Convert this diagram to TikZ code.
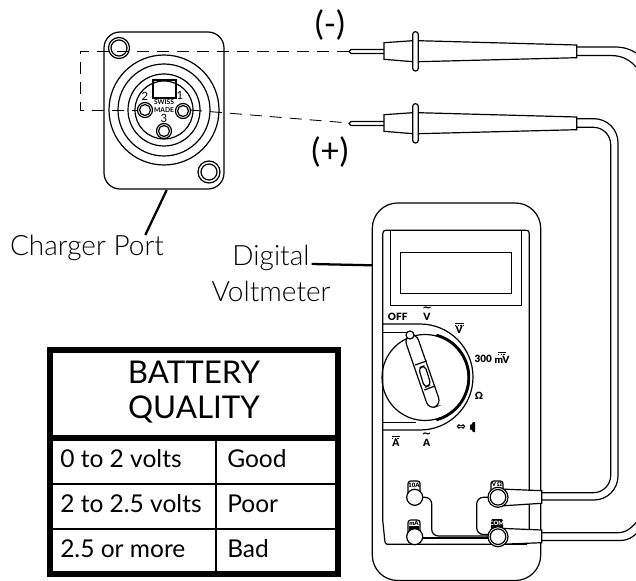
\documentclass[tikz,border=0pt]{standalone}
\usepackage{fontspec}
\setmainfont{Lato}
\newfontfamily\lightfont{Lato Light}
\newfontfamily\heavyfont{Lato Black}
\newfontfamily\symbolfont{DejaVu Sans Bold}
\tikzset{
  ink/.style={black,line width=0.9pt},
  thinink/.style={black,line width=0.7pt},
  leader/.style={black,line width=1.7pt},
  wireline/.style={dash pattern=on 9pt off 6pt,line width=0.65pt},
  bigtext/.style={inner sep=0pt,font=\lightfont\fontsize{21}{21}\selectfont},
  signtext/.style={inner sep=0pt,font=\fontsize{25}{25}\selectfont},
  headtext/.style={inner sep=0pt,font=\fontsize{23.5}{23.5}\selectfont},
  celltext/.style={inner sep=0pt,anchor=west,font=\fontsize{18.4}{18.4}\selectfont},
  dialtext/.style={inner sep=0pt,font=\heavyfont\fontsize{7.5}{7.5}\selectfont},
  wavetext/.style={inner sep=0pt,font=\symbolfont\fontsize{8.5}{8.5}\selectfont},
  jacktext/.style={inner sep=0pt,font=\heavyfont\fontsize{4.5}{4.5}\selectfont},
  porttext/.style={inner sep=0pt,font=\fontsize{8.5}{8.5}\selectfont},
  swisstext/.style={inner sep=0pt,font=\bfseries\fontsize{5}{5}\selectfont},
}
\begin{document}
\begin{tikzpicture}[x=0.75pt,y=-0.75pt]
\useasboundingbox (0,0) rectangle (636,581);
\clip (0,0) rectangle (636,581);
% charger port
\draw[ink,rounded corners=12pt] (104,32) rectangle (224,189);
\draw[ink] (164,110) circle (55);
\draw[ink] (164,110) circle (46);
\draw[ink] (164,110) circle (36);
\draw[ink] (164,110) circle (29);
\draw[ink] (119,48) circle (10.5);
\draw[ink] (119,48) circle (8);
\draw[ink] (209,172) circle (11);
\draw[ink] (209,172) circle (8);
\draw[ink] (153,80) -- (153,98) -- (176,98) -- (176,80) -- cycle;
% dashed wires to the probes
\coordinate (tipminus) at (349,51);
\coordinate (tipplus) at (349,123);
\coordinate (pinleft) at (80,110);
\coordinate (pinright) at (190,110);
\draw[wireline] (tipminus) -- (80,51) -- (pinleft) -- (145,110);
\draw[wireline] (pinright) -- (tipplus);
\draw[ink,fill=white] (145,110) circle (7.5);
\draw[ink] (145,110) circle (5.5);
\draw[ink,fill=white] (183,111) circle (7.5);
\draw[ink] (183,111) circle (5.5);
\draw[ink,fill=white] (164,131) circle (7.5);
\draw[ink] (164,131) circle (5.5);
\node[porttext] (pintwo) at (145,96) {2};
\node[porttext] (pinone) at (180,95) {1};
\node[porttext] (pinthree) at (164,118) {3};
\node[swisstext] (swiss) at (164,102.5) {SWISS};
\node[swisstext] (made) at (164,110) {MADE};
% probes
\draw[ink,fill=white] (384,49.5) -- (351,49.5) -- (349,51.5) -- (351,53.5) -- (384,53.5);
\draw[ink,fill=white] (384,42.7) -- (412.7,40.7) -- (412.7,61.7) -- (384,59.3) -- cycle;
\draw[ink,fill=white] (418.3,40.7) -- (576.7,45) -- (576.7,57.7) -- (418.3,61.7) -- cycle;
\draw[ink,fill=white,rounded corners=2pt] (412.7,31.7) rectangle (418.3,71);
\draw[ink,fill=white] (384,121.5) -- (351,121.5) -- (349,123.5) -- (351,125.5) -- (384,125.5);
\draw[ink,fill=white] (384,114.7) -- (412.7,112.7) -- (412.7,133.7) -- (384,131.3) -- cycle;
\draw[ink,fill=white] (418.3,112.7) -- (576.7,117) -- (576.7,129.7) -- (418.3,133.7) -- cycle;
\draw[ink,fill=white,rounded corners=2pt] (412.7,103.7) rectangle (418.3,143);
% cables
\draw[ink] (576.7,47) -- (615,47) .. controls (625,47) and (633,50) .. (640,56);
\draw[ink] (576.7,55.6) -- (612,55.6) .. controls (622,55.6) and (630,60) .. (636,67);
\draw[ink,rounded corners=18pt] (576.7,118.7) -- (618,118.7) -- (618,500) -- (541.7,500);
\draw[ink,rounded corners=13pt] (576.7,127.3) -- (610.7,127.3) -- (610.7,492.7) -- (541.7,492.7);
\draw[ink] (541.7,532.7) -- (618,532.7) .. controls (626,532.7) and (632,528) .. (640,518);
\draw[ink] (541.7,540.5) -- (620,540.5) .. controls (630,540.5) and (636,535) .. (642,527);
% meter body
\draw[ink,rounded corners=19pt] (372.3,203) rectangle (540.7,580.5);
\draw[ink] (527,544.3) -- (387,544.3) .. controls (385,544.3) and (385,542) .. (384.5,538) -- (382.7,520) -- (382.7,234) .. controls (382.7,231) and (384,230.3) .. (386,230.3) -- (526,230.3) .. controls (528.5,230.3) and (529.3,231) .. (529.3,234) -- (529.3,530);
\draw[ink] (390.7,230.3) -- (390.7,305.7) -- (521.7,305.7) -- (521.7,230.3);
\draw[ink] (400.7,252.7) rectangle (511.7,293.3);
% dial
\draw[ink] (382.7,324) -- (420,324) arc[start angle=-90,end angle=90,radius=53] -- (382.7,430);
\draw[ink] (382.7,332.3) -- (413,332.3);
\draw[ink] (382.7,422.7) -- (416,422.7);
\draw[ink] (425,377.5) circle (43);
\draw[black,line width=1.9pt] (425,377.5) ++(-75:44) arc[start angle=-75,end angle=75,radius=44];
\draw[ink,fill=white,rounded corners=5.5pt] (404,337.3) -- (416,333) -- (441,404.5) -- (429,409.5) -- cycle;
\draw[ink,fill=white] (410,335) circle (4);
\draw[ink] (415,365) -- (426.7,361);
\draw[ink] (424.3,390) -- (435,386);
\draw[ink,rounded corners=3pt] (418.5,368) -- (425,365.5) -- (431,385) -- (424.5,387.5) -- cycle;
\node[dialtext] (off) at (397.7,316.7) {OFF};
\node[dialtext] (acvolt) at (427,317) {V};
\node[wavetext] (acvoltwave) at (427,309.5) {\char"223C};
\node[dialtext] (dcvolt) at (459.3,330) {V};
\draw[thinink] (455,323) -- (464,323);
\draw[thinink,dash pattern=on 1pt off 1pt] (455,325) -- (464,325);
\node[dialtext] (threehundred) at (483.3,359.3) {300};
\node[dialtext] (millivolt) at (502,360) {mV};
\draw[thinink] (498,352.7) -- (506,352.7);
\draw[thinink,dash pattern=on 1pt off 1pt] (498,354.7) -- (506,354.7);
\node[dialtext] (ohm) at (479,395.7) {Ω};
\node[wavetext] (diode) at (461,427.5) {⇔};
\fill[black] (470,424.5) -- (471.5,424.5) -- (473,422) -- (475,422) -- (475,432) -- (473,432) -- (471.5,429.5) -- (470,429.5) -- cycle;
\node[dialtext] (dcamp) at (396,442.5) {A};
\draw[thinink] (392,436) -- (400,436);
\draw[thinink,dash pattern=on 1pt off 1pt] (392,438) -- (400,438);
\node[dialtext] (acamp) at (426.7,442.5) {A};
\node[wavetext] (acampwave) at (426.7,435) {\char"223C};
% jack wiring
\draw[ink,rounded corners=5pt] (422.7,497.3) -- (431.7,497.3) -- (431.7,536) -- (490,536);
\draw[ink] (422.7,538) -- (490,538);
\draw[ink,rounded corners=5pt] (488,497.3) -- (476.7,497.3) -- (476.7,534.5) -- (490,534.5);
% jacks
\draw[ink,fill=white,rounded corners=2pt] (408,481) rectangle (420,497);
\node[jacktext] (tenamp) at (414,485) {10A};
\draw[ink,fill=white] (414.7,497.3) circle (8);
\draw[ink,fill=white,rounded corners=2pt] (408,520) rectangle (420,536);
\fill[black] (409,526) rectangle (419,531);
\node[jacktext] (milliamp) at (414,523) {mA};
\draw[ink,fill=white] (414.7,536.7) circle (8);
% probe ends in the jacks
\draw[ink,fill=white] (500,489) -- (541.7,490.7) -- (541.7,503.3) -- (500,506) -- cycle;
\draw[ink,fill=white] (500,528.3) -- (541.7,530) -- (541.7,542.7) -- (500,544.3) -- cycle;
\draw[ink,fill=white,rounded corners=2pt] (491,481) rectangle (503,497);
\node[jacktext] (voltjack) at (497,484) {V\,Ω};
\draw[ink,fill=white] (498,497.3) circle (10);
\draw[ink] (498,497.3) circle (7.8);
\fill[black,rounded corners=1pt] (491,519) rectangle (503,530);
\node[jacktext,white] (comjack) at (497,523) {COM};
\draw[ink,fill=white] (498,536.7) circle (10);
\draw[ink] (498,536.7) circle (7.8);
% labels
\node[signtext] (minus) at (330,25) {(-)};
\node[signtext] (plus) at (330,152) {(+)};
\node[bigtext] (charger) at (87,248) {Charger Port};
\node[bigtext] (digital) at (271,258) {Digital};
\node[bigtext] (voltmeter) at (271,291) {Voltmeter};
\coordinate (portfoot) at (166.7,190);
\coordinate (meterside) at (372,265.3);
\draw[leader] (portfoot) -- (145.3,235);
\draw[leader] (311.7,264) -- (meterside);
% table
\draw[black,line width=4.4pt] (49.8,349.8) rectangle (338,574);
\draw[black,line width=4.4pt] (49.8,437.8) -- (338,437.8);
\draw[black,line width=1.5pt] (50,484) -- (338,484);
\draw[black,line width=1.5pt] (50,528.7) -- (338,528.7);
\draw[black,line width=1.5pt] (215.7,438) -- (215.7,574);
\node[headtext] (battery) at (194,372) {BATTERY};
\node[headtext] (quality) at (194,409) {QUALITY};
\node[celltext] (rowone) at (60,459) {0 to 2 volts};
\node[celltext] (rowtwo) at (60,504) {2 to 2.5 volts};
\node[celltext] (rowthree) at (60,549) {2.5 or more};
\node[celltext] (goodcell) at (227,459) {Good};
\node[celltext] (poorcell) at (227,504) {Poor};
\node[celltext] (badcell) at (227,549) {Bad};
\end{tikzpicture}
\end{document}
